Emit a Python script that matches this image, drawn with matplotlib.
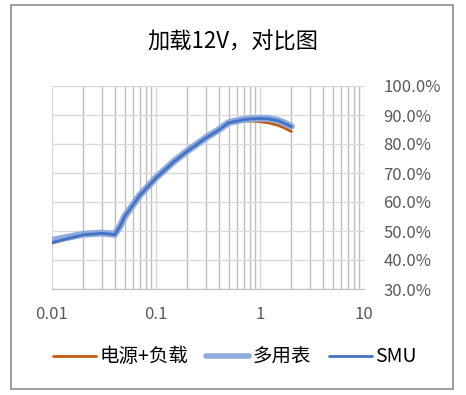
import matplotlib
matplotlib.use("Agg")
import matplotlib.pyplot as plt
from matplotlib.patches import Rectangle
from matplotlib.ticker import FuncFormatter, LogLocator, FixedLocator

plt.rcParams['font.family'] = ['Noto Sans CJK SC', 'DejaVu Sans']

# load current (A)
current = [0.01, 0.015, 0.02, 0.03, 0.037, 0.04, 0.045, 0.05, 0.07, 0.1, 0.15,
           0.2, 0.3, 0.4, 0.5, 0.6, 0.7, 0.85, 1.0, 1.2, 1.5, 1.7, 2.0]
# efficiency (%)
eff_psu_load = [45.8, 47.5, 48.6, 49.1, 48.9, 48.7, 51.5, 55.0, 62.3, 68.3, 74.0,
                77.5, 82.0, 84.8, 87.2, 87.6, 87.9, 87.9, 87.7, 87.3, 86.4, 85.6, 84.3]
eff_multimeter = [46.8, 48.0, 48.9, 49.3, 49.0, 48.8, 51.6, 55.0, 62.4, 68.4, 74.1,
                  77.6, 82.1, 84.9, 87.4, 88.0, 88.5, 88.8, 88.9, 88.8, 88.1, 87.3, 86.1]
eff_smu = [46.0, 47.6, 48.7, 49.2, 48.9, 48.7, 51.5, 55.0, 62.3, 68.3, 74.0,
           77.5, 82.0, 84.8, 87.3, 87.9, 88.4, 88.7, 88.8, 88.7, 88.0, 87.2, 86.0]

title = "加载12V，对比图"
labels = ["电源+负载", "多用表", "SMU"]


def main():
    fig = plt.figure(figsize=(4.66, 3.95), dpi=100)
    ax = fig.add_axes([52 / 466, 1 - 289 / 395, 312 / 466, 203 / 395])

    ax.plot(current, eff_psu_load, color="#C55A11", lw=2.0, label=labels[0],
            solid_capstyle="round", solid_joinstyle="round", zorder=3)
    ax.plot(current, eff_multimeter, color="#8FAADC", lw=5.0, label=labels[1],
            solid_capstyle="round", solid_joinstyle="round", zorder=4)
    ax.plot(current, eff_smu, color="#4472C4", lw=2.0, label=labels[2],
            solid_capstyle="round", solid_joinstyle="round", zorder=5)

    ax.set_xscale("log")
    ax.set_xlim(0.01, 10)
    ax.set_ylim(30, 100)
    ax.xaxis.set_major_locator(FixedLocator([0.01, 0.1, 1, 10]))
    ax.xaxis.set_major_formatter(FuncFormatter(lambda v, p: "{:g}".format(v)))
    ax.xaxis.set_minor_locator(LogLocator(base=10, subs=range(2, 10)))
    ax.yaxis.set_major_locator(FixedLocator(range(30, 101, 10)))
    ax.yaxis.set_major_formatter(FuncFormatter(lambda v, p: "{:.1f}%".format(v)))
    ax.yaxis.tick_right()

    ax.grid(True, which="major", color="#D9D9D9", lw=1.0)
    ax.grid(True, which="minor", axis="x", color="#BFBFBF", lw=1.0)
    ax.set_axisbelow(True)
    for side in ["top", "left", "right"]:
        ax.spines[side].set_visible(False)
    ax.spines["bottom"].set_color("#BFBFBF")
    ax.tick_params(which="both", length=0, colors="#595959", labelsize=12)
    ax.tick_params(axis="x", pad=12)
    ax.tick_params(axis="y", pad=14)

    fig.text(0.5, 1 - 42 / 395, title, ha="center", va="center",
             fontsize=16, color="#000000")

    leg = fig.legend(loc="center", bbox_to_anchor=(235 / 466, 1 - 357 / 395), ncol=3,
                     frameon=False, fontsize=14, handlelength=2.2,
                     handletextpad=0.2, columnspacing=0.9)
    leg.get_lines()[1].set_linewidth(4.0)

    fig.patches.append(Rectangle((11 / 466, 1 - 389 / 395), 442 / 466, 384 / 395,
                                 transform=fig.transFigure, fill=False,
                                 edgecolor="#8C8C8C", lw=1.2))

    fig.savefig("out.png", dpi=100)


if __name__ == '__main__':
    main()
